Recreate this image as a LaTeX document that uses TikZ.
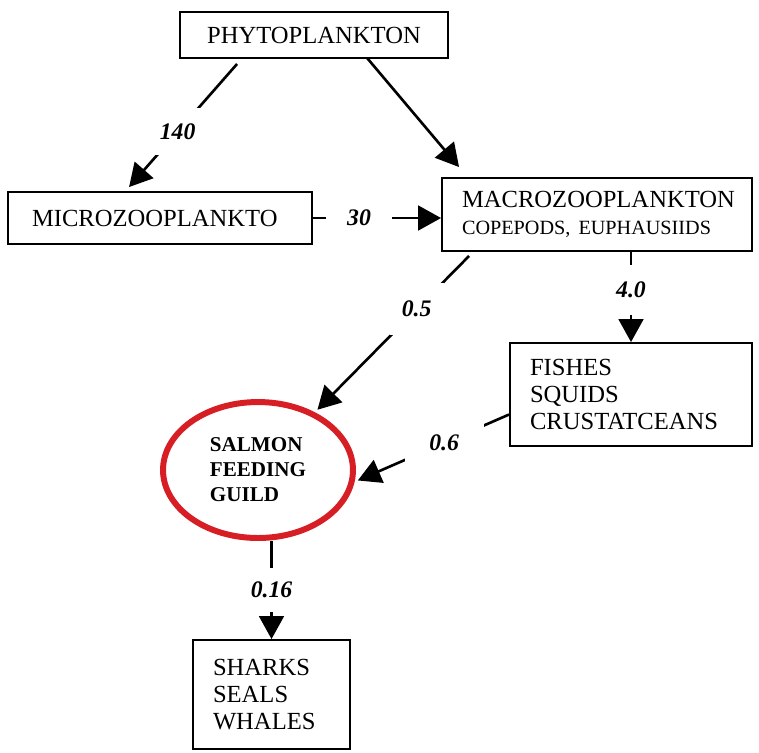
\documentclass[tikz,border=0pt]{standalone}
\usepackage{fontspec}
\setmainfont{Liberation Serif}
\usetikzlibrary{arrows.meta,calc,shapes.geometric}
\definecolor{guildred}{RGB}{214,30,36}

\begin{document}
\begin{tikzpicture}[x=0.02cm,y=-0.02cm,
	box/.style={draw,line width=1.1pt,inner sep=0pt,font=\fontsize{14}{15.5}\selectfont,align=left},
	guild/.style={ellipse,draw=guildred,line width=3.4pt,inner sep=0pt,minimum width=3.8cm,minimum height=2.72cm,font=\fontsize{12}{14.2}\selectfont\bfseries,align=left},
	flow/.style={line width=1.5pt,-{Triangle[length=13pt,width=14pt]}},
	lbl/.style={fill=white,inner xsep=2pt,font=\fontsize{13.5}{15}\selectfont\bfseries\itshape}]
	\useasboundingbox (0,0) rectangle (759,752);
	%boxes
	\node[box,minimum width=5.36cm,minimum height=0.92cm] (phyto) at (314,35) {PHYTOPLANKTON};
	\node[box,text width=5.12cm,inner xsep=0.48cm,minimum height=1.04cm] (micro) at (160,218) {MICROZOOPLANKTO};
	\node[box,text width=5.4cm,inner xsep=0.4cm,minimum height=1.46cm] (macro) at (597,214.5) {MACROZOOPLANKTON\\{\fontsize{11.5}{13}\selectfont COPEPODS,\ EUPHAUSIIDS}};
	\node[box,text width=4.04cm,inner xsep=0.4cm,minimum height=2.06cm] (fishes) at (631,394.5) {FISHES\\SQUIDS\\CRUSTATCEANS};
	\node[guild] (salmon) at (258,470) {SALMON\\FEEDING\\GUILD};
	\node[box,text width=2.34cm,inner xsep=0.4cm,minimum height=2.18cm] (sharks) at (271.5,694.5) {SHARKS\\SEALS\\WHALES};
	%flows
	\draw[flow] ($(phyto.south west)+(58,5)$) -- node[lbl,pos=0.55,inner xsep=4pt,inner ysep=9pt] {140} ($(micro.north west)+(122,-4)$);
	\draw[flow] ($(phyto.south west)+(188,-1)$) -- ($(macro.north west)+(18,-10)$);
	\draw[flow] (micro.east) -- node[lbl,pos=0.36,inner xsep=12pt] {30} (macro.west |- micro.east);
	\draw[flow,shorten >=2pt] ($(macro.south west)+(28,4)$) -- node[lbl,pos=0.34,inner xsep=7pt,inner ysep=10pt] {0.5} (salmon);
	\draw[flow] (fishes.north |- macro.south) -- node[lbl,pos=0.42,inner ysep=9.5pt] {4.0} (fishes.north);
	\draw[flow,shorten >=2pt] ($(fishes.west)+(0,20)$) -- node[lbl,pos=0.42,inner xsep=14pt,inner ysep=10pt] {0.6} (salmon.-7);
	\draw[flow] (sharks.north |- salmon.south) -- node[lbl,inner ysep=8pt] {0.16} (sharks.north);
\end{tikzpicture}
\end{document}
